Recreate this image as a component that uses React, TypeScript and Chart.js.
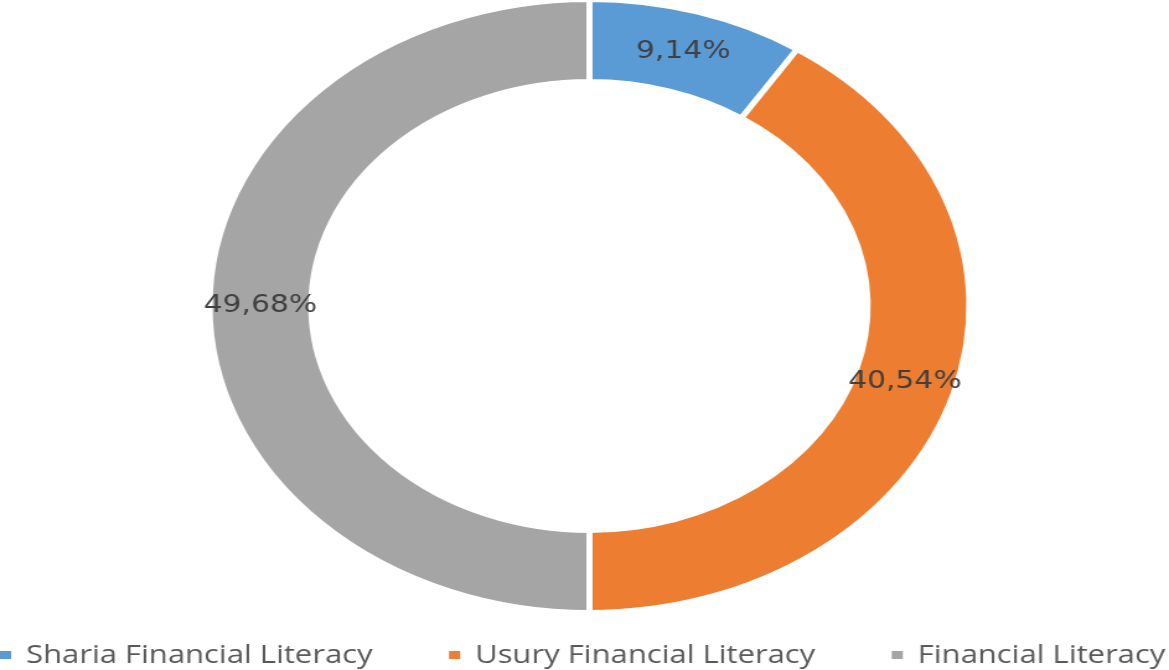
import { useEffect, useRef } from "react";
import { Chart, registerables } from "chart.js";

Chart.register(...registerables);

// ---- data ----
const categories = ["Sharia Financial Literacy", "Usury Financial Literacy", "Financial Literacy"];
const shares = [9.14, 40.54, 49.68];
const shareLabels = ["9,14%", "40,54%", "49,68%"];
const sliceColors = ["#5B9BD5", "#ED7D31", "#A5A5A5"];

// ---- layout ----
const VIEW_W = 1169;
const VIEW_H = 670;
const TOP_SHIFT = 10; // canvas extends above the viewport
const CANVAS_H = VIEW_H + TOP_SHIFT;
const STRETCH = 1.24; // reference is horizontally stretched
const INNER_W = Math.round(VIEW_W / STRETCH);

const sliceLabelPlugin = {
  id: "sliceLabels",
  afterDatasetsDraw(chart: any) {
    const ctx = chart.ctx;
    const meta = chart.getDatasetMeta(0);
    ctx.save();
    ctx.font = "24px 'DejaVu Sans'";
    ctx.fillStyle = "#404040";
    ctx.textAlign = "center";
    ctx.textBaseline = "middle";
    meta.data.forEach((arc: any, i: number) => {
      const p = arc.tooltipPosition(false);
      ctx.fillText(shareLabels[i], p.x, p.y);
    });
    ctx.restore();
  },
};

const bottomLegendPlugin = {
  id: "bottomLegend",
  afterDraw(chart: any) {
    const ctx = chart.ctx;
    const labels: string[] = chart.data.labels;
    const colors: string[] = chart.data.datasets[0].backgroundColor;
    const boxW = 9;
    const boxH = 8;
    const textGap = 12;
    const y = 655 + TOP_SHIFT;
    ctx.save();
    ctx.font = "25px 'Open Sans'";
    ctx.textBaseline = "middle";
    ctx.textAlign = "left";
    const widths = labels.map((l) => boxW + textGap + ctx.measureText(l).width);
    const startX = 0;
    const endX = chart.width - 3;
    const total = widths.reduce((a, b) => a + b, 0);
    const gap = (endX - startX - total) / (labels.length - 1);
    let x = startX;
    labels.forEach((l, i) => {
      ctx.fillStyle = colors[i];
      ctx.fillRect(x, y - boxH / 2, boxW, boxH);
      ctx.fillStyle = "#595959";
      ctx.fillText(l, x + boxW + textGap, y + 1);
      x += widths[i] + gap;
    });
    ctx.restore();
  },
};

export default function App() {
  const canvasRef = useRef<HTMLCanvasElement | null>(null);

  useEffect(() => {
    const canvas = canvasRef.current;
    if (!canvas) return;
    const chart = new Chart(canvas, {
      type: "doughnut",
      data: {
        labels: categories,
        datasets: [
          {
            data: shares,
            backgroundColor: sliceColors,
            borderColor: "#ffffff",
            borderWidth: 5,
            radius: 306.5,
            cutout: 229.5,
            clip: false,
          } as any,
        ],
      },
      options: {
        responsive: false,
        maintainAspectRatio: false,
        devicePixelRatio: 1,
        animation: false,
        layout: { padding: { left: 8, right: 0, top: 0, bottom: 48 } },
        plugins: {
          legend: { display: false },
          tooltip: { enabled: false },
        },
      } as any,
      plugins: [sliceLabelPlugin, bottomLegendPlugin],
    });
    return () => chart.destroy();
  }, []);

  return (
    <div style={{ position: "fixed", left: 0, top: 0, width: VIEW_W, height: VIEW_H, overflow: "hidden", background: "#fff" }}>
      <canvas
        ref={canvasRef}
        width={INNER_W}
        height={CANVAS_H}
        style={{ position: "absolute", left: 0, top: -TOP_SHIFT + "px", width: VIEW_W + "px", height: CANVAS_H + "px", display: "block" }}
      />
    </div>
  );
}
